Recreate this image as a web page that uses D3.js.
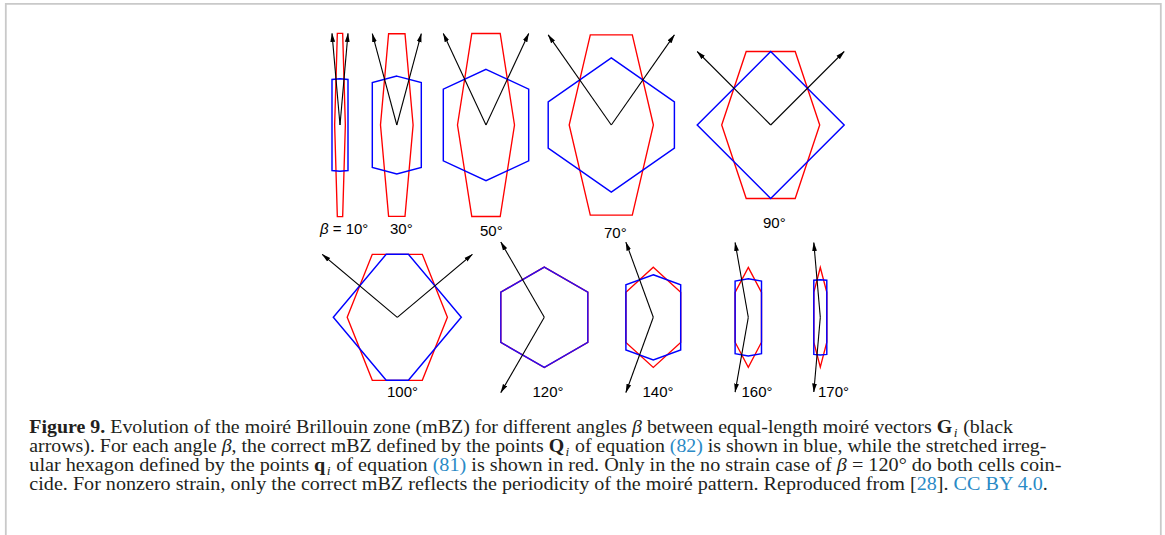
<!DOCTYPE html>
<html><head><meta charset="utf-8">
<script src="https://cdn.jsdelivr.net/npm/d3@7"></script>
<style>
body{margin:0;background:#fff;}
svg{display:block;}
text{white-space:pre;}
</style>
</head><body>
<svg id="c" width="1165" height="535"></svg>
<script>
// ---- data (offsets from each panel's origin, y pointing up, 1 unit ≈ 1 px) ----
const betaLabels = ["10°","30°","50°","70°","90°","100°","120°","140°","160°","170°"];

const arrowTips = [
  [[-8.0,91.6],[8.0,91.6]],
  [[-24.5,91.3],[24.5,91.3]],
  [[-42.7,91.5],[42.7,91.5]],
  [[-63.1,90.1],[63.1,90.1]],
  [[-73.5,73.5],[73.5,73.5]],
  [[-75.1,63.0],[75.1,63.0]],
  [[-43.5,75.3],[-43.5,-75.3]],
  [[-27.4,75.2],[-27.4,-75.2]],
  [[-13.2,74.8],[-13.2,-74.8]],
  [[-6.5,74.7],[-6.5,-74.7]]
];

const blueCells = [
  [[0,46.2],[8.0,45.5],[8.0,-45.5],[0,-46.2],[-8.0,-45.5],[-8.0,45.5]],
  [[0,48.9],[24.5,42.4],[24.5,-42.4],[0,-48.9],[-24.5,-42.4],[-24.5,42.4]],
  [[0,55.7],[42.7,35.8],[42.7,-35.8],[0,-55.7],[-42.7,-35.8],[-42.7,35.8]],
  [[0,67.1],[63.1,23.0],[63.1,-23.0],[0,-67.1],[-63.1,-23.0],[-63.1,23.0]],
  [[0,73.5],[73.5,0],[0,-73.5],[-73.5,0]],
  [[11.1,63.0],[64.0,0],[11.1,-63.0],[-11.1,-63.0],[-64.0,0],[-11.1,63.0]],
  [[0,50.2],[43.5,25.1],[43.5,-25.1],[0,-50.2],[-43.5,-25.1],[-43.5,25.1]],
  [[0,42.6],[27.4,32.6],[27.4,-32.6],[0,-42.6],[-27.4,-32.6],[-27.4,32.6]],
  [[0,38.6],[13.2,36.3],[13.2,-36.3],[0,-38.6],[-13.2,-36.3],[-13.2,36.3]],
  [[0,37.6],[6.5,37.1],[6.5,-37.1],[0,-37.6],[-6.5,-37.1],[-6.5,37.1]]
];

const redCells = [
  [[5.35,0],[2.67,91.6],[-2.67,91.6],[-5.35,0],[-2.67,-91.6],[2.67,-91.6]],
  [[16.3,0],[8.2,91.3],[-8.2,91.3],[-16.3,0],[-8.2,-91.3],[8.2,-91.3]],
  [[28.5,0],[14.2,91.5],[-14.2,91.5],[-28.5,0],[-14.2,-91.5],[14.2,-91.5]],
  [[42.1,0],[21.0,90.1],[-21.0,90.1],[-42.1,0],[-21.0,-90.1],[21.0,-90.1]],
  [[49.0,0],[24.5,73.5],[-24.5,73.5],[-49.0,0],[-24.5,-73.5],[24.5,-73.5]],
  [[50.1,0],[25.0,63.0],[-25.0,63.0],[-50.1,0],[-25.0,-63.0],[25.0,-63.0]],
  [[0,50.2],[43.5,25.1],[43.5,-25.1],[0,-50.2],[-43.5,-25.1],[-43.5,25.1]],
  [[0,50.1],[27.4,25.1],[27.4,-25.1],[0,-50.1],[-27.4,-25.1],[-27.4,25.1]],
  [[0,49.9],[13.2,24.9],[13.2,-24.9],[0,-49.9],[-13.2,-24.9],[-13.2,24.9]],
  [[0,49.8],[6.5,24.9],[6.5,-24.9],[0,-49.8],[-6.5,-24.9],[-6.5,24.9]]
];

// ---- layout ----
const W = 1165, H = 535;
const panelOrigin = [
  [340,125],[396.8,125],[486,125],[611.3,125],[770.7,125],
  [397.3,317.3],[544.3,317.3],[653.3,317.3],[748.3,317.3],[820.3,317.3]
];
const labelPos = [
  [320,233.5],[390,233.5],[480,235.5],[604,238],[763,228],
  [387,396.5],[532.5,396.5],[642.5,396.5],[741.5,396.5],[818,396.5]
];

const svg = d3.select("#c");

// frame
svg.append("path")
  .attr("d", `M5.8,${H} L5.8,3.8 L1160.8,3.8 L1160.8,${H}`)
  .attr("fill","none").attr("stroke","#c9c9c9").attr("stroke-width",1.8);

const defs = svg.append("defs");
defs.append("marker")
  .attr("id","ah").attr("viewBox","0 -3 9 6")
  .attr("refX",8.5).attr("refY",0)
  .attr("markerWidth",9).attr("markerHeight",6)
  .attr("markerUnits","userSpaceOnUse")
  .attr("orient","auto")
  .append("path").attr("d","M0,-2.4L9,0L0,2.4Z").attr("fill","#000");

betaLabels.forEach((lab,i)=>{
  const [cx,cy] = panelOrigin[i];
  const x = d3.scaleLinear().domain([-100,100]).range([cx-100,cx+100]);
  const y = d3.scaleLinear().domain([-100,100]).range([cy+100,cy-100]);
  const line = d3.line().x(d=>x(d[0])).y(d=>y(d[1])).curve(d3.curveLinearClosed);
  const g = svg.append("g");
  g.append("path").attr("d", line(redCells[i]))
    .attr("fill","none").attr("stroke","#ff0000").attr("stroke-width",1.35).attr("stroke-linejoin","miter");
  g.append("path").attr("d", line(blueCells[i]))
    .attr("fill","none").attr("stroke", i===6 ? "#2a0cf0" : "#0000ff").attr("stroke-width",1.45).attr("stroke-linejoin","miter");
  arrowTips[i].forEach(t=>{
    g.append("line")
      .attr("x1",x(0)).attr("y1",y(0))
      .attr("x2",x(t[0])).attr("y2",y(t[1]))
      .attr("stroke","#000").attr("stroke-width",1.1)
      .attr("marker-end","url(#ah)");
  });
  const tx = svg.append("text")
    .attr("x",labelPos[i][0]).attr("y",labelPos[i][1])
    .attr("font-family","'Liberation Sans', Arial, sans-serif")
    .attr("font-size",15).attr("fill","#000");
  if(i===0){
    tx.append("tspan").attr("font-style","italic").text("β");
    tx.append("tspan").text(" = " + lab);
  } else tx.text(lab);
});

// ---- caption ----
const capLines = [
  [["Figure 9.","b"],[" Evolution of the moiré Brillouin zone (mBZ) for different angles ",""],["β","i"],[" between equal-length moiré vectors ",""],["G","b"],["i","s"],[" (black",""]],
  [["arrows). For each angle ",""],["β","i"],[", the correct mBZ defined by the points ",""],["Q","b"],["i","s"],[" of equation ",""],["(82)","l"],[" is shown in blue, while the stretched irreg-",""]],
  [["ular hexagon defined by the points ",""],["q","b"],["i","s"],[" of equation ",""],["(81)","l"],[" is shown in red. Only in the no strain case of ",""],["β","i"],[" = 120° do both cells coin-",""]],
  [["cide. For nonzero strain, only the correct mBZ reflects the periodicity of the moiré pattern. Reproduced from [",""],["28","l"],["]. ",""],["CC BY 4.0","l"],[".",""]]
];
const capBase = [432.6, 451.8, 471.0, 490.2];
const capRight = [1013, 1046.5, 1061.5, 1048];
const capLeft = 29.3;

capLines.forEach((segs,li)=>{
  const g = svg.append("g");
  // split into runs at subscripts: each run is its own text element
  const runs = [[]];
  segs.forEach(s=>{
    if(s[1]==="s"){ runs.push([s]); runs.push([]); }
    else runs[runs.length-1].push(s);
  });
  let cursor = 0;
  runs.filter(r=>r.length).forEach(run=>{
    const isSub = run[0][1]==="s";
    if(isSub) cursor += 1.3;
    const t = g.append("text")
      .attr("x",cursor).attr("y", isSub ? 4 : 0)
      .attr("xml:space","preserve")
      .attr("font-family","'Liberation Serif','Times New Roman',serif")
      .attr("font-size", isSub ? 12.5 : 18.5).attr("fill","#231f20");
    run.forEach(([s,st])=>{
      const sp = t.append("tspan").text(s);
      if(st==="b") sp.attr("font-weight","bold");
      if(st==="i"||st==="s") sp.attr("font-style","italic");
      if(st==="l") sp.attr("fill","#2a8ac6");
    });
    cursor += t.node().getComputedTextLength();
    if(isSub) cursor += 0.6;
  });
  const k = (capRight[li]-capLeft)/cursor;
  g.attr("transform", `translate(${capLeft},${capBase[li]}) scale(${k.toFixed(4)},1)`);
});
</script>
</body></html>
